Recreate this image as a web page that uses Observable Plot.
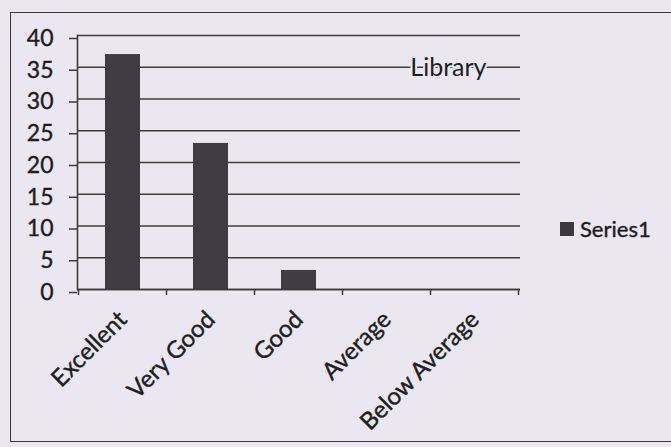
<!DOCTYPE html>
<html><head><meta charset="utf-8">
<script src="https://cdn.jsdelivr.net/npm/d3@7"></script>
<script src="https://cdn.jsdelivr.net/npm/@observablehq/plot@0.6"></script>
<style>
html,body{margin:0;padding:0;width:671px;height:447px;overflow:hidden;background:#ebe7f0;font-family:Lato,sans-serif;}
#chart{position:relative;width:671px;height:447px;}
#chart svg{position:absolute;left:0;top:0;}
#border{position:absolute;left:10px;top:12px;width:700px;height:428px;border:1.5px solid #3a3a3a;}
#legend{position:absolute;left:560px;top:215px;display:flex;align-items:center;font-size:22px;color:#1e1e1e;font-family:Lato,sans-serif;-webkit-text-stroke:0.4px #1e1e1e;}
#legend .sw{width:14px;height:14px;background:#3b393f;margin-right:6px;}
g[aria-label="x-axis tick label"] text, g[aria-label="y-axis tick label"] text{stroke:#1e1e1e;stroke-width:0.4px;}
</style>
</head><body>
<div id="chart"><div id="border"></div></div>
<script>
const categories = ["Excellent", "Very Good", "Good", "Average", "Below Average"];
const values = [37, 23, 3, 0, 0];
const yTicks = [0, 5, 10, 15, 20, 25, 30, 35, 40];
const title = "Library";
const seriesName = "Series1";

const data = categories.map((c, i) => ({category: c, value: values[i]}));
const bg = "#ebe7f0";

// boundary tick marks between categories, derived from the band scale
function boundaryTicks(index, scales, values, dims) {
  const x = scales.x;
  const bw = typeof x.bandwidth === "function" ? x.bandwidth() : x.bandwidth;
  const dom = categories;
  const step = dom.length > 1 ? x(dom[1]) - x(dom[0]) : bw;
  const pad = (step - bw) / 2;
  const xs = dom.map(c => x(c) - pad);
  xs.push(x(dom[dom.length - 1]) + bw + pad);
  const y0 = dims.height - dims.marginBottom;
  const g = d3.create("svg:g");
  g.selectAll("line").data(xs).join("line")
    .attr("x1", d => d).attr("x2", d => d)
    .attr("y1", y0).attr("y2", y0 + 6)
    .attr("stroke", "#3a3a3a").attr("stroke-width", 1.5);
  return g.node();
}

const plot = Plot.plot({
  width: 671,
  height: 447,
  marginLeft: 77,
  marginRight: 151,
  marginTop: 35,
  marginBottom: 158,
  style: {background: "transparent", fontFamily: "Lato, sans-serif", color: "#1e1e1e"},
  x: {domain: categories, paddingInner: 0.6, paddingOuter: 0.3, label: null},
  y: {domain: [0, 40], ticks: yTicks, label: null},
  marks: [
    Plot.gridY(yTicks, {stroke: "#3e3e3e", strokeOpacity: 1, strokeWidth: 1.6}),
    Plot.axisY(yTicks, {tickSize: 8, tickPadding: 16, fontSize: 23, stroke: "#3a3a3a", strokeWidth: 1.5, dy: 3, fill: "#1e1e1e"}),
    Plot.frame({anchor: "left", stroke: "#3a3a3a", strokeWidth: 1.6}),
    Plot.barY(data, {x: "category", y: "value", fill: "#3f3c44"}),
    Plot.ruleY([0], {stroke: "#3a3a3a", strokeWidth: 1.6}),
    boundaryTicks,
    Plot.axisX({tickSize: 0, tickPadding: 26, tickRotate: -45, fontSize: 24, fill: "#1e1e1e"}),
    Plot.text([title], {frameAnchor: "top-right", dx: -34, dy: 32, textAnchor: "end", lineAnchor: "middle", fontSize: 25, fill: "#1e1e1e", stroke: bg, strokeWidth: 4})
  ]
});
document.getElementById("chart").appendChild(plot);

const legend = document.createElement("div");
legend.id = "legend";
legend.innerHTML = `<div class="sw"></div><span></span>`;
legend.querySelector("span").textContent = seriesName;
document.getElementById("chart").appendChild(legend);
</script>
</body></html>
